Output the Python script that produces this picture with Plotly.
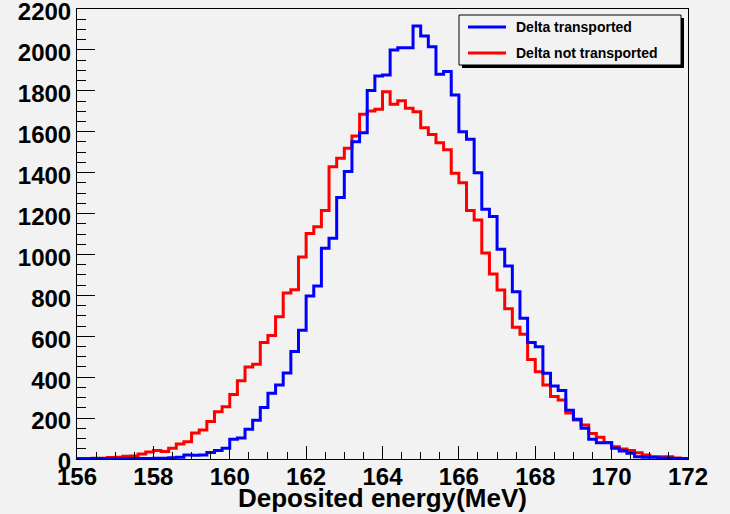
import plotly.graph_objects as go

# Bin edges: 80 bins of 0.2 MeV from 156 to 172
x_min = 156.0
bin_width = 0.2
n_bins = 80

delta_transported = [
    1, 1, 2, 2, 2, 2, 3, 3, 2, 3,
    4, 4, 6, 8, 20, 18, 19, 32, 42, 53,
    97, 103, 146, 189, 252, 321, 362, 420, 525, 629,
    797, 846, 1030, 1079, 1278, 1405, 1551, 1595, 1801, 1872,
    1877, 2000, 2011, 2011, 2117, 2068, 2016, 1881, 1895, 1780,
    1600, 1563, 1400, 1221, 1185, 1025, 944, 818, 688, 569,
    549, 419, 357, 335, 238, 194, 150, 96, 80, 80,
    52, 39, 28, 11, 8, 8, 5, 5, 3, 3,
]

delta_not_transported = [
    3, 3, 4, 4, 7, 8, 14, 15, 24, 34,
    41, 37, 52, 73, 84, 127, 142, 183, 231, 255,
    315, 383, 450, 463, 570, 604, 695, 812, 828, 987,
    1102, 1136, 1215, 1429, 1470, 1519, 1579, 1685, 1701, 1710,
    1796, 1734, 1752, 1715, 1698, 1620, 1587, 1546, 1512, 1397,
    1350, 1215, 1168, 1007, 905, 826, 735, 644, 610, 487,
    427, 362, 305, 289, 225, 191, 166, 125, 106, 81,
    60, 49, 41, 31, 20, 11, 11, 11, 5, 3,
]

series_names = ["Delta transported", "Delta not transported"]
series_colors = ["#0000ff", "#ff0000"]

edges = [round(x_min + bin_width * i, 4) for i in range(n_bins + 1)]

BG = "#f2f2f2"
FONT = "Liberation Sans"

fig = go.Figure()

def hist_trace(vals, name, color):
    return go.Scatter(
        x=edges,
        y=list(vals) + [vals[-1]],
        mode="lines",
        line=dict(shape="hv", color=color, width=3),
        name=name,
        showlegend=False,
        hoverinfo="skip",
    )

# red first, blue on top
fig.add_trace(hist_trace(delta_not_transported, series_names[1], series_colors[1]))
fig.add_trace(hist_trace(delta_transported, series_names[0], series_colors[0]))

fig.update_layout(
    width=730,
    height=514,
    margin=dict(l=77, r=42, t=9, b=55),
    paper_bgcolor=BG,
    plot_bgcolor=BG,
    font=dict(family=FONT, color="black"),
)

fig.update_xaxes(
    automargin=False,
    range=[156, 172],
    tickmode="linear",
    tick0=156,
    dtick=2,
    ticks="inside",
    ticklen=13,
    tickwidth=1,
    tickcolor="black",
    minor=dict(ticks="inside", ticklen=7, dtick=0.5, tick0=156, tickcolor="black", tickwidth=1),
    showgrid=False,
    zeroline=False,
    showline=True,
    linecolor="black",
    linewidth=1,
    mirror=True,
    ticklabeloverflow="allow",
    ticklabelstandoff=-4,
    tickfont=dict(family=FONT, size=24, weight="bold", color="black"),
)

fig.update_yaxes(
    automargin=False,
    range=[0, 2200],
    tickmode="linear",
    tick0=0,
    dtick=200,
    ticks="inside",
    ticklen=18,
    tickwidth=1,
    tickcolor="black",
    minor=dict(ticks="inside", ticklen=9, dtick=50, tick0=0, tickcolor="black", tickwidth=1),
    showgrid=False,
    zeroline=False,
    showline=True,
    linecolor="black",
    linewidth=1,
    mirror=True,
    ticklabeloverflow="allow",
    ticklabelshift=3,
    tickfont=dict(family=FONT, size=24, weight="bold", color="black"),
)

# Manual ROOT-style legend and axis title (paper coords)
W, H = 730, 514
L, R, T, B = 77, 42, 9, 55
pw, ph = W - L - R, H - T - B

def px2x(px):
    return (px - L) / pw

def py2y(py):
    return 1 - (py - T) / ph

fig.add_annotation(xref="paper", yref="paper", x=0.5, y=py2y(498),
                   text="Deposited energy(MeV)", showarrow=False,
                   xanchor="center", yanchor="middle",
                   font=dict(family=FONT, size=26, weight="bold", color="black"))

bx0, bx1, by0, by1 = 459, 681, 15, 65
# shadow
fig.add_shape(type="rect", xref="paper", yref="paper",
              x0=px2x(bx0 + 3), x1=px2x(bx1 + 3), y0=py2y(by1 + 3), y1=py2y(by0 + 3),
              fillcolor="black", line=dict(width=0), layer="above")
fig.add_shape(type="rect", xref="paper", yref="paper",
              x0=px2x(bx0), x1=px2x(bx1), y0=py2y(by1), y1=py2y(by0),
              fillcolor=BG, line=dict(color="black", width=1), layer="above")

entry_y = [27, 53]
for name, color, ey in zip(series_names, series_colors, entry_y):
    fig.add_shape(type="line", xref="paper", yref="paper",
                  x0=px2x(468), x1=px2x(506), y0=py2y(ey), y1=py2y(ey),
                  line=dict(color=color, width=3), layer="above")
    fig.add_annotation(xref="paper", yref="paper", x=px2x(514), y=py2y(ey),
                       text=name, showarrow=False, xanchor="left", yanchor="middle",
                       font=dict(family=FONT, size=14, weight="bold", color="black"))

fig.write_html("out.html")
